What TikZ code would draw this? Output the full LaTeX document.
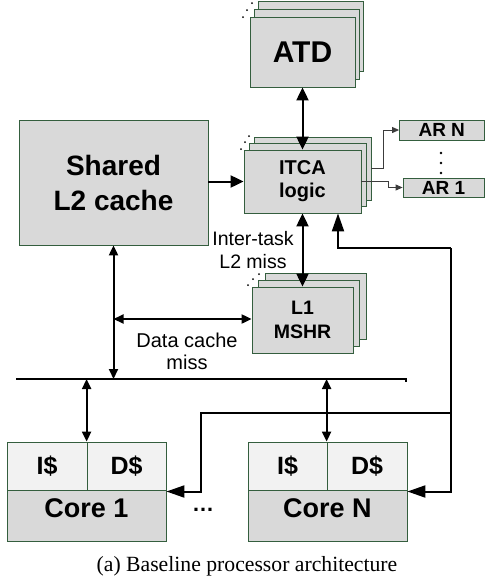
\documentclass[tikz,border=0pt]{standalone}
\usepackage{fontspec}
\setmainfont{Liberation Sans}
\newfontfamily\capfont{Liberation Serif}
\usetikzlibrary{arrows.meta}
\definecolor{boxgray}{RGB}{217,217,217}
\definecolor{cellgray}{RGB}{242,242,242}
\definecolor{boxline}{RGB}{52,94,62}
\definecolor{thingray}{RGB}{60,60,60}
\tikzset{
  blk/.style={draw=boxline, fill=boxgray, line width=0.8pt, inner sep=0pt, align=center, font=\bfseries},
  cell/.style={blk, fill=cellgray},
  lbl/.style={align=center, inner sep=0pt},
  bus/.style={line width=2pt},
  bigarrow/.style={line width=2pt, {Triangle[length=13pt,width=12pt]}-{Triangle[length=13pt,width=12pt]}},
  midarrow/.style={line width=2pt, {Triangle[length=10pt,width=9pt]}-{Triangle[length=10pt,width=9pt]}},
  onearrow/.style={line width=2pt, -{Triangle[length=13pt,width=12pt]}},
  fbarrow/.style={line width=2pt, -{Triangle[length=18pt,width=12pt]}},
  thinarrow/.style={draw=thingray, line width=0.9pt, -{Triangle[length=7pt,width=6pt]}},
  dot/.style={circle, fill=black, inner sep=0pt, minimum size=2pt}
}
\begin{document}
\begin{tikzpicture}[x=1pt, y=-1pt]
\useasboundingbox (0,0) rectangle (485,579);

% shared cache
\node[blk, minimum width=189pt, minimum height=125pt, font=\bfseries\fontsize{28}{35}\selectfont] (l2) at (113.5,182.5) {Shared\\L2 cache};

% ATD stack
\node[blk, minimum width=105pt, minimum height=70pt] (atd3) at (310.5,36) {};
\node[blk, minimum width=105pt, minimum height=70pt] (atd2) at (306.5,44) {};
\node[blk, minimum width=105pt, minimum height=70pt, font=\bfseries\fontsize{30}{34}\selectfont] (atd) at (302.5,52) {ATD};
\node[dot] (atddot1) at (243,17) {};
\node[dot] (atddot2) at (247,10) {};
\node[dot] (atddot3) at (252,3) {};

% ITCA stack
\node[blk, minimum width=117pt, minimum height=63pt] (itca3) at (312.5,168.5) {};
\node[blk, minimum width=117pt, minimum height=63pt] (itca2) at (307.5,175) {};
\node[blk, minimum width=117pt, minimum height=63pt, font=\bfseries\fontsize{20}{23}\selectfont] (itca) at (302.5,181.5) {ITCA\\logic};
\node[dot] (itcadot1) at (241,149) {};
\node[dot] (itcadot2) at (245,142) {};
\node[dot] (itcadot3) at (249,136) {};

% L1 MSHR stack
\node[blk, minimum width=101pt, minimum height=66pt] (mshr3) at (315.5,306) {};
\node[blk, minimum width=101pt, minimum height=66pt] (mshr2) at (309,313) {};
\node[blk, minimum width=101pt, minimum height=66pt, font=\bfseries\fontsize{19.5}{24}\selectfont] (mshr) at (302.5,320) {L1\\MSHR};
\node[dot] (mshrdot1) at (248,285) {};
\node[dot] (mshrdot2) at (253,279) {};
\node[dot] (mshrdot3) at (259,274) {};

% activity registers
\node[blk, minimum width=84.5pt, minimum height=20pt, font=\bfseries\fontsize{19}{20}\selectfont] (arn) at (441.75,130) {AR N};
\node[blk, minimum width=81pt, minimum height=19pt, font=\bfseries\fontsize{19}{20}\selectfont] (ar1) at (443.5,187.5) {AR 1};
\node[dot, minimum size=2.6pt] (ardot1) at (441,153) {};
\node[dot, minimum size=2.6pt] (ardot2) at (441,163) {};
\node[dot, minimum size=2.6pt] (ardot3) at (441,173) {};

% cores
\node[blk, minimum width=159pt, minimum height=99pt] (core1) at (86.5,491.5) {};
\node[cell, minimum width=80pt, minimum height=48pt, font=\bfseries\fontsize{25}{28}\selectfont] (core1i) at (47,466) {I\$};
\node[cell, minimum width=79pt, minimum height=48pt, font=\bfseries\fontsize{25}{28}\selectfont] (core1d) at (126.5,466) {D\$};
\node[lbl, font=\bfseries\fontsize{27}{30}\selectfont] (core1txt) at (86.5,508) {Core 1};

\node[blk, minimum width=159pt, minimum height=99pt] (coren) at (327.5,491.5) {};
\node[cell, minimum width=79pt, minimum height=48pt, font=\bfseries\fontsize{25}{28}\selectfont] (coreni) at (287.5,466) {I\$};
\node[cell, minimum width=80pt, minimum height=48pt, font=\bfseries\fontsize{25}{28}\selectfont] (corend) at (367,466) {D\$};
\node[lbl, font=\bfseries\fontsize{27}{30}\selectfont] (corentxt) at (327.5,508) {Core N};

\node[lbl, font=\bfseries\fontsize{22}{24}\selectfont] (coredots) at (203,510) {\ldots};

% bus
\coordinate (busl) at (16,379);
\coordinate (busr) at (406,379);
\draw[bus] (busl) -- (busr) -- ++(0,3);

% labels
\node[lbl, font=\fontsize{19.5}{23}\selectfont] (itlabel) at (253,250) {Inter-task\\L2 miss};
\node[lbl, font=\fontsize{20}{22}\selectfont] (dclabel) at (187,351) {Data cache\\miss};

% connections
\draw[bigarrow] (atd.south) -- (itca.north);
\draw[bigarrow] (itca.south) -- (mshr.north);
\draw[onearrow] (l2.east |- itca.west) -- (itca.west);
\draw[midarrow] (l2.south) -- (l2.south |- busl);
\coordinate (dc) at (113.5,319);
\draw[midarrow] (dc) -- (dc -| mshr.west);
\draw[midarrow] (core1d.north west) -- (core1d.north west |- busl);
\draw[midarrow] (corend.north west) -- (corend.north west |- busl);

\draw[thinarrow] (itca3.east) -- ++(12,0) |- (arn.west);
\draw[thinarrow] (itca.east) -- ++(27,0) |- (ar1.west);

% feedback to cores and ITCA
\coordinate (fbx) at (451,248);
\coordinate (fbj) at (451,413);
\coordinate (fbk) at (201,413);
\draw[fbarrow] (fbx) -| ([xshift=35.5pt]itca.south);
\draw[fbarrow] (fbx) |- (coren.east);
\draw[fbarrow] (fbj) -- (fbk) |- (core1.east);

% caption
\node[lbl, font=\capfont\fontsize{21.7}{25}\selectfont] (caption) at (247,566) {(a) Baseline processor architecture};
\end{tikzpicture}
\end{document}
